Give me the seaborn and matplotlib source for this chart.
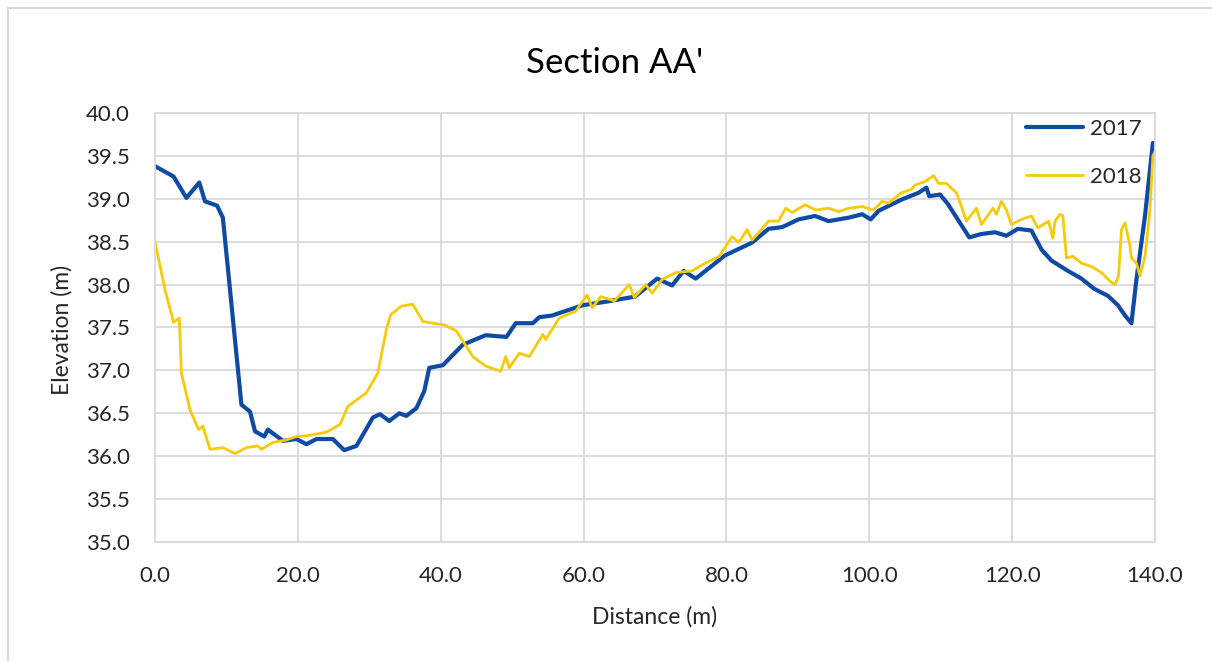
import pandas as pd
import matplotlib.pyplot as plt
import matplotlib.patches as patches
import seaborn as sns

# Distance (m) and elevation (m)
dist_2017 = [0.0, 2.6, 4.4, 6.2, 7.0, 8.7, 9.5, 12.1, 13.3, 14.0, 15.3, 15.8, 17.9,
             19.8, 21.2, 22.6, 24.9, 26.5, 28.2, 30.5, 31.5, 32.8, 34.2, 35.2, 36.6,
             37.7, 38.4, 40.3, 43.1, 46.3, 49.2, 50.5, 52.9, 53.8, 55.6, 59.9, 63.1,
             67.2, 70.3, 72.4, 74.0, 75.7, 79.8, 83.6, 85.9, 87.8, 90.1, 92.4, 94.3,
             97.1, 99.0, 100.2, 101.3, 104.5, 106.9, 108.0, 108.4, 109.9, 111.0,
             113.0, 114.0, 115.7, 117.6, 119.2, 120.8, 122.7, 124.1, 125.5, 127.8,
             129.7, 131.5, 133.4, 134.8, 135.8, 136.7, 137.4, 138.6, 139.7, 140.0]
elev_2017 = [39.38, 39.26, 39.01, 39.19, 38.97, 38.92, 38.78, 36.60, 36.52, 36.29, 36.23, 36.31, 36.18,
             36.20, 36.14, 36.20, 36.20, 36.07, 36.12, 36.45, 36.49, 36.41, 36.50, 36.47, 36.56,
             36.76, 37.03, 37.06, 37.30, 37.41, 37.39, 37.55, 37.55, 37.62, 37.64, 37.76, 37.80,
             37.86, 38.07, 37.99, 38.16, 38.07, 38.34, 38.49, 38.65, 38.67, 38.76, 38.80, 38.74,
             38.78, 38.82, 38.76, 38.86, 38.99, 39.07, 39.13, 39.03, 39.05, 38.94,
             38.68, 38.55, 38.59, 38.61, 38.57, 38.65, 38.63, 38.41, 38.28, 38.16,
             38.07, 37.95, 37.87, 37.76, 37.64, 37.55, 38.06, 38.80, 39.65, 39.65]

# Same for the 2018 profile
dist_2018 = [0.0, 1.4, 2.6, 3.4, 3.7, 4.9, 6.1, 6.7, 7.7, 9.5, 11.2, 12.8, 14.4, 14.9,
             16.5, 18.4, 19.8, 21.4, 24.0, 25.9, 27.0, 29.6, 31.2, 32.4, 33.0, 34.5,
             36.1, 37.5, 38.9, 40.5, 42.2, 44.5, 46.3, 48.4, 49.1, 49.6, 51.0, 52.4,
             54.3, 54.7, 56.6, 58.9, 60.5, 61.2, 62.4, 64.3, 66.4, 67.1, 68.7, 69.6,
             71.0, 72.9, 75.2, 76.6, 79.0, 80.8, 81.7, 82.9, 83.6, 85.9, 87.3, 88.3,
             89.2, 91.0, 92.5, 94.3, 95.7, 97.1, 99.0, 100.6, 101.8, 102.7, 104.5,
             105.9, 106.4, 107.8, 109.0, 109.7, 110.8, 112.2, 112.9, 113.6, 115.0,
             115.7, 117.3, 117.8, 118.5, 119.2, 119.9, 121.3, 122.7, 123.6, 125.1,
             125.7, 126.0, 126.7, 127.1, 127.6, 128.5, 129.7, 131.1, 132.5, 133.7,
             134.4, 134.9, 135.3, 135.8, 136.5, 136.7, 137.4, 137.9, 138.6, 139.3,
             139.7, 140.0]
elev_2018 = [38.50, 37.94, 37.56, 37.61, 36.97, 36.54, 36.31, 36.35, 36.08, 36.10, 36.03, 36.10, 36.12, 36.08,
             36.16, 36.19, 36.23, 36.24, 36.28, 36.37, 36.58, 36.74, 36.97, 37.48, 37.65, 37.75,
             37.77, 37.57, 37.55, 37.53, 37.46, 37.16, 37.05, 36.99, 37.16, 37.03, 37.20, 37.16,
             37.42, 37.36, 37.61, 37.69, 37.88, 37.73, 37.86, 37.81, 38.00, 37.85, 38.00, 37.90,
             38.06, 38.14, 38.16, 38.23, 38.33, 38.56, 38.49, 38.64, 38.52, 38.74, 38.74, 38.89,
             38.84, 38.93, 38.87, 38.89, 38.85, 38.89, 38.91, 38.87, 38.97, 38.95, 39.07,
             39.11, 39.16, 39.20, 39.27, 39.18, 39.18, 39.07, 38.91, 38.74, 38.89,
             38.70, 38.89, 38.82, 38.97, 38.87, 38.70, 38.76, 38.80, 38.66, 38.74,
             38.54, 38.74, 38.82, 38.80, 38.31, 38.33, 38.25, 38.21, 38.14, 38.04,
             38.00, 38.10, 38.64, 38.72, 38.45, 38.31, 38.25, 38.10, 38.33, 38.87,
             39.50, 39.55]

x_ticks = [0, 20, 40, 60, 80, 100, 120, 140]
y_ticks = [35.0, 35.5, 36.0, 36.5, 37.0, 37.5, 38.0, 38.5, 39.0, 39.5, 40.0]

df17 = pd.DataFrame({'Distance': dist_2017, 'Elevation': elev_2017})
df18 = pd.DataFrame({'Distance': dist_2018, 'Elevation': elev_2018})

sns.set_theme(style="whitegrid")
plt.rcParams['font.family'] = ['Lato', 'DejaVu Sans']
grid_col = '#D9D9D9'
text_col = '#262626'

fig = plt.figure(figsize=(12.12, 6.61), dpi=100)
ax = fig.add_axes([155 / 1212, 1 - 542 / 661, 1000 / 1212, 429 / 661])

sns.lineplot(data=df17, x='Distance', y='Elevation', ax=ax, color='#0F4BA5',
             linewidth=3.0, label='2017', sort=False)
sns.lineplot(data=df18, x='Distance', y='Elevation', ax=ax, color='#F5CB0A',
             linewidth=2.0, label='2018', sort=False)

ax.set_xlim(0, 140)
ax.set_ylim(35, 40)
ax.set_xticks(x_ticks)
ax.set_yticks(y_ticks)
ax.set_xticklabels([f"{v:.1f}" for v in x_ticks])
ax.set_yticklabels([f"{v:.1f}" for v in y_ticks])
ax.tick_params(axis='both', length=0, labelsize=16, colors=text_col)
ax.tick_params(axis='x', pad=17)
ax.tick_params(axis='y', pad=18)
ax.grid(True, color=grid_col, linewidth=1.3)
for s in ax.spines.values():
    s.set_color(grid_col)
    s.set_linewidth(1.3)

ax.set_xlabel('')
ax.set_ylabel('')
fig.text(655 / 1212, 1 - 617 / 661, 'Distance (m)', ha='center', va='center',
         fontsize=16.5, color=text_col)
fig.text(62 / 1212, 1 - 330 / 661, 'Elevation (m)', ha='center', va='center',
         rotation=90, fontsize=16.5, color=text_col)
fig.text(615 / 1212, 1 - 63 / 661, "Section AA'", ha='center', va='center',
         fontsize=25, color='black')

leg = ax.legend(loc='upper right', bbox_to_anchor=(1.0, 1.017), frameon=False,
                fontsize=16, handlelength=2.6, labelspacing=1.27,
                borderaxespad=0.2, handletextpad=0.3)
for t in leg.get_texts():
    t.set_color(text_col)

# chart area border, cut off on the right and bottom like the screenshot
fig.patches.append(patches.Rectangle((8 / 1212, -0.1), 1.2, 1 - 8 / 661 + 0.1,
                                     transform=fig.transFigure, fill=False,
                                     edgecolor=grid_col, linewidth=1.5))

fig.savefig('out.png', dpi=100)
